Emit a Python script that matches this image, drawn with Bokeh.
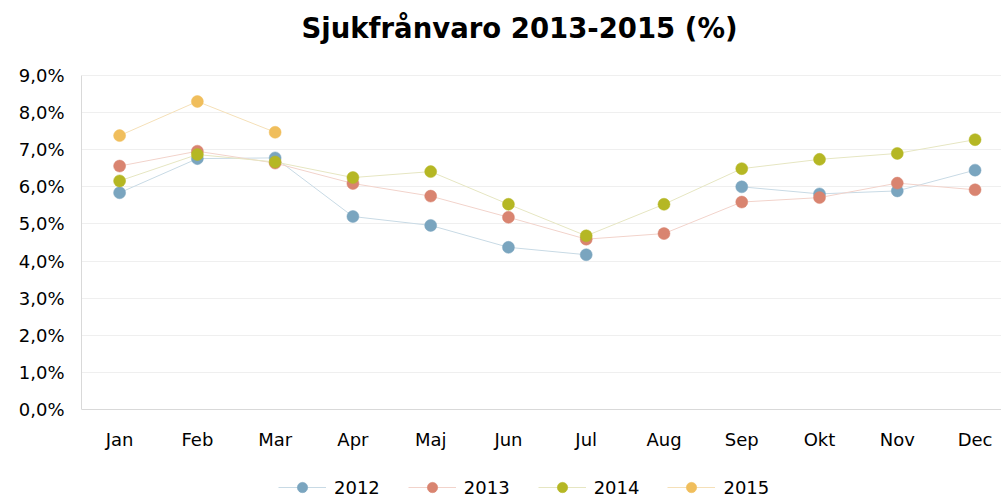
import math
from bokeh.plotting import figure
from bokeh.models import FixedTicker, Range1d, Legend, LegendItem, ColumnDataSource, Label
from bokeh.embed import file_html
from bokeh.resources import INLINE

nan = float("nan")
title_text = "Sjukfrånvaro 2013-2015 (%)"
months = ["Jan", "Feb", "Mar", "Apr", "Maj", "Jun", "Jul", "Aug", "Sep", "Okt", "Nov", "Dec"]
years = ["2012", "2013", "2014", "2015"]
s2012 = [5.84, 6.76, 6.78, 5.20, 4.96, 4.37, 4.17, nan, 6.00, 5.81, 5.89, 6.45]
s2013 = [6.56, 6.96, 6.64, 6.09, 5.75, 5.18, 4.59, 4.74, 5.59, 5.71, 6.10, 5.92]
s2014 = [6.16, 6.87, 6.67, 6.25, 6.41, 5.53, 4.68, 5.53, 6.49, 6.74, 6.90, 7.27]
s2015 = [7.38, 8.30, 7.47, nan, nan, nan, nan, nan, nan, nan, nan, nan]
y_ticks = [0, 1, 2, 3, 4, 5, 6, 7, 8, 9]
y_labels = ["0,0%", "1,0%", "2,0%", "3,0%", "4,0%", "5,0%", "6,0%", "7,0%", "8,0%", "9,0%"]

series = [s2012, s2013, s2014, s2015]
marker_colors = ["#7aa5bf", "#d98470", "#b5b724", "#f0be5c"]
line_colors = ["#c8dae5", "#f2d3cb", "#e6e6c2", "#f5e0b8"]

FONT = "DejaVu Sans"

# layout in pixels: 9% at 75 px, 0% at 409 px; frame covers full figure height
px_per_unit = (409 - 75) / 9.0
y_bottom = -(497 - 409) / px_per_unit
y_top = 9 + 75 / px_per_unit

p = figure(width=1001, height=497, output_backend="svg", toolbar_location=None,
           x_range=Range1d(-0.49, 11.34), y_range=Range1d(y_bottom, y_top),
           min_border_left=81, min_border_right=0, min_border_top=0, min_border_bottom=0)
p.outline_line_color = None
p.background_fill_color = "white"
p.border_fill_color = "white"

p.add_layout(Label(x=438, y=470, x_units="screen", y_units="screen", text=title_text,
                   text_align="center", text_baseline="middle",
                   text_font=FONT, text_font_style="bold", text_font_size="27.5px",
                   text_color="#000000"))

p.xgrid.grid_line_color = None
p.ygrid.grid_line_color = "#efefef"
p.ygrid.ticker = FixedTicker(ticks=y_ticks)

xa = p.xaxis[0]
xa.fixed_location = 0
xa.ticker = FixedTicker(ticks=list(range(len(months))))
xa.major_label_overrides = {i: m for i, m in enumerate(months)}
ya = p.yaxis[0]
ya.bounds = (0, 9)
ya.ticker = FixedTicker(ticks=y_ticks)
ya.major_label_overrides = {t: l for t, l in zip(y_ticks, y_labels)}
for ax in (xa, ya):
    ax.axis_line_color = "#d9d9d9"
    ax.major_tick_line_color = None
    ax.minor_tick_line_color = None
    ax.major_label_text_font = FONT
    ax.major_label_text_font_size = "18px"
    ax.major_label_text_color = "#000000"
xa.major_label_standoff = 13
ya.major_label_standoff = 11

items = []
xs = list(range(len(months)))
for name, vals, mc, lc in zip(years, series, marker_colors, line_colors):
    src = ColumnDataSource(dict(x=xs, y=vals))
    lr = p.line("x", "y", source=src, line_color=lc, line_width=1)
    sr = p.scatter("x", "y", source=src, size=12, fill_color=mc, line_color=mc, line_width=0.5)
    items.append(LegendItem(label=name, renderers=[lr, sr]))

legend = Legend(items=items, orientation="horizontal", location=(197, -3),
                border_line_color=None, background_fill_alpha=0,
                label_text_font=FONT, label_text_font_size="18px", label_text_color="#000000",
                glyph_width=48, glyph_height=26, label_standoff=8, spacing=28,
                padding=0, margin=0)
p.add_layout(legend, "center")

open("out.html", "w").write(file_html(p, INLINE))
